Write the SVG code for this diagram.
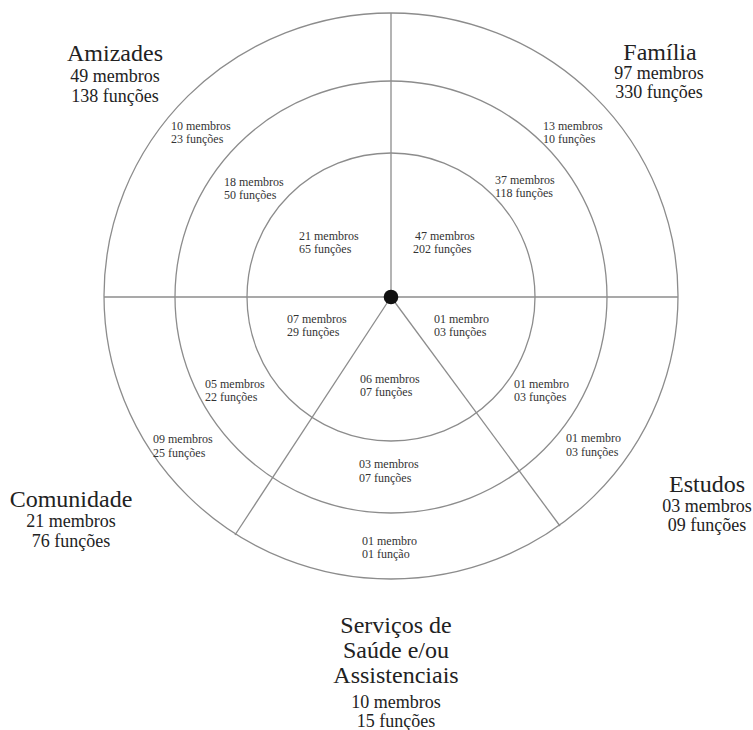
<svg xmlns="http://www.w3.org/2000/svg" width="753" height="730" viewBox="0 0 753 730">
  <style>
    .ring { fill: none; stroke: #8c8c8c; stroke-width: 1.3; }
    .div { stroke: #8c8c8c; stroke-width: 1.3; }
    .big { font-family: "Liberation Serif", "Times New Roman", serif; font-size: 24px; fill: #222; text-anchor: middle; }
    .mid { font-family: "Liberation Serif", "Times New Roman", serif; font-size: 18px; fill: #222; text-anchor: middle; }
    .small { font-family: "Liberation Serif", "Times New Roman", serif; font-size: 12px; fill: #333; }
  </style>
  <rect width="753" height="730" fill="#ffffff"/>

  <!-- concentric rings -->
  <g id="rings">
    <ellipse class="ring" cx="391" cy="296" rx="287" ry="283"/>
    <circle class="ring" cx="391" cy="297" r="216"/>
    <circle class="ring" cx="391" cy="297" r="144"/>
  </g>

  <!-- sector dividers -->
  <g id="connectors">
    <line class="div" x1="391" y1="297" x2="391" y2="13"/>
    <line class="div" x1="104" y1="297" x2="678" y2="297"/>
    <line class="div" x1="391" y1="297" x2="235" y2="535"/>
    <line class="div" x1="391" y1="297" x2="560" y2="526"/>
  </g>

  <circle id="center" cx="391" cy="297" r="7.3" fill="#111"/>

  <g id="amizades">
    <text class="big" x="115" y="61">Amizades</text>
    <text class="mid" x="115" y="82">49 membros</text>
    <text class="mid" x="115" y="102">138 funções</text>
    <text class="small" x="171" y="130">10 membros</text>
    <text class="small" x="171" y="143">23 funções</text>
    <text class="small" x="224" y="186">18 membros</text>
    <text class="small" x="224" y="199">50 funções</text>
    <text class="small" x="299" y="240">21 membros</text>
    <text class="small" x="299" y="253">65 funções</text>
  </g>

  <g id="familia">
    <text class="big" x="660" y="60">Família</text>
    <text class="mid" x="659" y="79">97 membros</text>
    <text class="mid" x="659" y="98">330 funções</text>
    <text class="small" x="543" y="130">13 membros</text>
    <text class="small" x="543" y="143">10 funções</text>
    <text class="small" x="495" y="184">37 membros</text>
    <text class="small" x="495" y="197">118 funções</text>
    <text class="small" x="415" y="240">47 membros</text>
    <text class="small" x="413" y="253">202 funções</text>
  </g>

  <g id="comunidade">
    <text class="big" x="71" y="507">Comunidade</text>
    <text class="mid" x="71" y="527">21 membros</text>
    <text class="mid" x="71" y="547">76 funções</text>
    <text class="small" x="153" y="443">09 membros</text>
    <text class="small" x="153" y="457">25 funções</text>
    <text class="small" x="205" y="388">05 membros</text>
    <text class="small" x="205" y="401">22 funções</text>
    <text class="small" x="287" y="323">07 membros</text>
    <text class="small" x="287" y="336">29 funções</text>
  </g>

  <g id="estudos">
    <text class="big" x="707" y="492">Estudos</text>
    <text class="mid" x="707" y="512">03 membros</text>
    <text class="mid" x="707" y="531">09 funções</text>
    <text class="small" x="566" y="442">01 membro</text>
    <text class="small" x="566" y="456">03 funções</text>
    <text class="small" x="514" y="388">01 membro</text>
    <text class="small" x="514" y="401">03 funções</text>
    <text class="small" x="434" y="323">01 membro</text>
    <text class="small" x="434" y="336">03 funções</text>
  </g>

  <g id="servicos">
    <text class="big" x="396" y="633">Serviços de</text>
    <text class="big" x="396" y="658">Saúde e/ou</text>
    <text class="big" x="396" y="683">Assistenciais</text>
    <text class="mid" x="396" y="708">10 membros</text>
    <text class="mid" x="396" y="727">15 funções</text>
    <text class="small" x="362" y="545">01 membro</text>
    <text class="small" x="362" y="558">01 função</text>
    <text class="small" x="359" y="468">03 membros</text>
    <text class="small" x="359" y="482">07 funções</text>
    <text class="small" x="360" y="383">06 membros</text>
    <text class="small" x="360" y="396">07 funções</text>
  </g>
</svg>
